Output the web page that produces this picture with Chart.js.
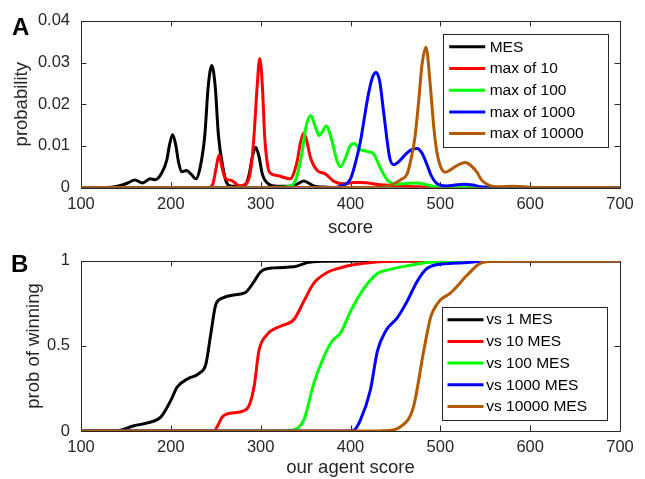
<!DOCTYPE html>
<html>
<head>
<meta charset="utf-8">
<script src="https://cdn.jsdelivr.net/npm/chart.js@4.4.0/dist/chart.umd.min.js"></script>
<style>
  html, body { margin: 0; padding: 0; background: #fff; }
  #wrap { position: relative; width: 645px; height: 479px; overflow: hidden; }
  #wrap canvas { position: absolute; left: 0; }
  #cA { top: 0; }
  #cB { top: 240px; }
  .panel { position: absolute; font: bold 24px "Liberation Sans", Arial, sans-serif; color: #000; }
</style>
</head>
<body>
<div id="wrap">
  <canvas id="cA" width="645" height="240"></canvas>
  <canvas id="cB" width="645" height="239"></canvas>
  <div class="panel" style="left:12px;top:13px">A</div>
  <div class="panel" style="left:11px;top:250px">B</div>
</div>
<script>
/* ── data: panel A, score distributions ── */
const scoreTicks = [100, 200, 300, 400, 500, 600, 700];
const probTicks  = [0, 0.01, 0.02, 0.03, 0.04];
const winTicks   = [0, 0.5, 1];

const namesA = ['MES', 'max of 10', 'max of 100', 'max of 1000', 'max of 10000'];
const namesB = ['vs 1 MES', 'vs 10 MES', 'vs 100 MES', 'vs 1000 MES', 'vs 10000 MES'];
const colors = ['#000000', '#ff0000', '#00ff00', '#0000ff', '#b35900'];

const mesX = [100, 133, 144, 152, 160, 168.5, 177, 182.6, 189, 195.5, 198.5, 202, 205.5, 208.5, 212, 217.4, 223, 228, 232.6, 237.8, 241.5, 245.6, 249.5, 253, 258, 262, 268, 279.6, 284, 287, 291, 294.4, 298, 301.8, 309, 318, 333, 342, 348, 354, 359, 374, 400, 700];
const mesY = [0, 0.0001, 0.0005, 0.0011, 0.0018, 0.0011, 0.0021, 0.0019, 0.0032, 0.0066, 0.0102, 0.0127, 0.0102, 0.0062, 0.0038, 0.0041, 0.0031, 0.0021, 0.0048, 0.0125, 0.024, 0.0293, 0.024, 0.0125, 0.0048, 0.0012, 0.0003, 0.0003, 0.001, 0.003, 0.0076, 0.0097, 0.0076, 0.0033, 0.0008, 0.0003, 0.0003, 0.001, 0.0016, 0.001, 0.0004, 0.0001, 0, 0];

const max10X = [100, 242.6, 247, 250.5, 253.7, 257, 260, 263, 266.7, 271, 276, 283, 287, 290, 292.6, 296, 299, 302, 304.4, 308, 312, 318.5, 333, 337, 340.7, 344.5, 348, 351.5, 355.6, 363, 372, 381.5, 392.6, 403.7, 411, 437, 474, 500, 700];
const max10Y = [0, 0, 0.001, 0.0048, 0.0078, 0.0048, 0.0025, 0.0019, 0.0018, 0.0012, 0.0004, 0.0008, 0.0022, 0.006, 0.0125, 0.024, 0.031, 0.024, 0.0125, 0.005, 0.0033, 0.0029, 0.0021, 0.0035, 0.0064, 0.011, 0.0131, 0.011, 0.0071, 0.0041, 0.0033, 0.0015, 0.0009, 0.0012, 0.0012, 0.0006, 0.0002, 0, 0];

const max100X = [100, 300, 325, 335, 340, 346.3, 350, 355.6, 361, 365, 369, 373, 379.6, 385, 389, 394.4, 399, 404, 411, 418.5, 426, 433, 441, 450, 462, 474, 486, 500, 700];
const max100Y = [0, 0, 0.0001, 0.0006, 0.0025, 0.0087, 0.0141, 0.0173, 0.0145, 0.0125, 0.0135, 0.0148, 0.011, 0.0064, 0.005, 0.0071, 0.0098, 0.0106, 0.0091, 0.0087, 0.008, 0.0048, 0.0018, 0.0008, 0.001, 0.0011, 0.0006, 0.0001, 0];

const max1000X = [100, 378, 390, 400, 405, 411, 416, 420, 424.5, 428.5, 432.5, 437, 443.7, 448, 454, 461, 467, 474, 479.5, 485, 490, 496, 507, 516, 526, 536, 545, 559, 700];
const max1000Y = [0, 0, 0.0004, 0.0021, 0.0055, 0.011, 0.0175, 0.0225, 0.0265, 0.0276, 0.0255, 0.0179, 0.0071, 0.0055, 0.0063, 0.0079, 0.009, 0.0094, 0.0083, 0.0056, 0.0028, 0.001, 0.0004, 0.0006, 0.0008, 0.0006, 0.0002, 0, 0];

const max10000X = [100, 430, 437, 445, 450, 456, 463, 468, 472, 476, 479.6, 484, 489, 492.5, 496, 500, 505.6, 510, 515, 521, 527.8, 534, 540.7, 546, 552, 563, 581, 600, 620, 700];
const max10000Y = [0, 0, 0.0002, 0.0006, 0.0011, 0.0019, 0.0033, 0.0075, 0.0125, 0.021, 0.0295, 0.0337, 0.0241, 0.015, 0.0087, 0.0052, 0.0037, 0.0041, 0.0048, 0.0056, 0.006, 0.0053, 0.0037, 0.0018, 0.0008, 0.0002, 0.0003, 0.0001, 0, 0];

/* ── data: panel B, probability of winning ── */
const vs1X = [100, 140, 159, 174, 189, 200, 207, 218.5, 231.5, 239, 244.4, 250, 257.4, 270, 283, 292.6, 300, 314.8, 337, 352, 367, 400, 700];
const vs1Y = [0, 0.002, 0.031, 0.048, 0.083, 0.18, 0.258, 0.306, 0.339, 0.393, 0.568, 0.742, 0.781, 0.8, 0.814, 0.878, 0.936, 0.959, 0.965, 0.99, 0.998, 1, 1];

const vs10X = [100, 248, 252, 257.4, 270, 285, 292.6, 298, 307.4, 322, 337, 348, 359, 374, 389, 400, 422, 450, 700];
const vs10Y = [0, 0, 0.03, 0.083, 0.107, 0.132, 0.258, 0.47, 0.568, 0.616, 0.655, 0.762, 0.868, 0.932, 0.96, 0.975, 0.99, 1, 1];

const vs100X = [100, 305, 335, 340.7, 348, 359, 370, 379.6, 389, 400, 415, 430, 441, 467, 485, 520, 700];
const vs100Y = [0, 0, 0.005, 0.015, 0.064, 0.277, 0.432, 0.529, 0.577, 0.703, 0.839, 0.926, 0.946, 0.975, 0.99, 1, 1];

const vs1000X = [100, 395, 403.7, 411, 422, 430, 439, 452, 463, 474, 485, 507, 530, 552, 700];
const vs1000Y = [0, 0, 0.005, 0.064, 0.238, 0.471, 0.587, 0.665, 0.762, 0.878, 0.955, 0.984, 0.99, 1, 1];

const vs10000X = [100, 420, 441, 455.6, 470, 481.5, 489, 492.6, 500, 511, 515, 530, 544, 559, 600, 700];
const vs10000Y = [0, 0, 0.003, 0.025, 0.14, 0.47, 0.665, 0.713, 0.77, 0.81, 0.83, 0.917, 0.984, 0.998, 1, 1];

const FONT = '"Liberation Sans", Arial, Helvetica, sans-serif';
const INK = '#262626';

/* box with inward ticks on all four sides (MATLAB look) */
const axesBox = {
  id: 'axesBox',
  beforeDatasetsDraw(chart) {
    const { ctx, chartArea: a, scales: { x, y } } = chart;
    const len = 5.5;
    ctx.save();
    ctx.strokeStyle = INK;
    ctx.lineWidth = 1;
    ctx.beginPath();
    ctx.rect(Math.round(a.left) + 0.5, Math.round(a.top) + 0.5, Math.round(a.width), Math.round(a.height));
    x.ticks.forEach(t => {
      const px = Math.round(x.getPixelForValue(t.value)) + 0.5;
      ctx.moveTo(px, a.bottom); ctx.lineTo(px, a.bottom - len);
      ctx.moveTo(px, a.top); ctx.lineTo(px, a.top + len);
    });
    y.ticks.forEach(t => {
      const py = Math.round(y.getPixelForValue(t.value)) + 0.5;
      ctx.moveTo(a.left, py); ctx.lineTo(a.left + len, py);
      ctx.moveTo(a.right, py); ctx.lineTo(a.right - len, py);
    });
    ctx.stroke();
    ctx.restore();
  }
};

/* legend box drawn inside the plot area */
const boxLegend = {
  id: 'boxLegend',
  afterDraw(chart, args, o) {
    const { ctx, chartArea: a } = chart;
    const w = 164.5, h = 112.5;
    const left = a.right - o.insetRight - w;
    const top = o.corner === 'top' ? a.top + o.insetY : a.bottom - o.insetY - h;
    ctx.save();
    ctx.fillStyle = '#fff';
    ctx.fillRect(left, top, w, h);
    ctx.strokeStyle = INK;
    ctx.lineWidth = 1;
    ctx.strokeRect(Math.round(left) + 0.5, Math.round(top) + 0.5, Math.round(w), Math.round(h));
    ctx.font = '15.5px ' + FONT;
    ctx.textBaseline = 'middle';
    chart.data.datasets.forEach((ds, i) => {
      const cy = top + 13.2 + i * 21.7;
      ctx.strokeStyle = ds.borderColor;
      ctx.lineWidth = 3;
      ctx.beginPath();
      ctx.moveTo(left + 6, cy); ctx.lineTo(left + 42, cy);
      ctx.stroke();
      ctx.fillStyle = '#000';
      ctx.fillText(ds.label, left + o.textX, cy + 0.5);
    });
    ctx.restore();
  }
};

function lineSet(label, color, xs, ys, i) {
  return {
    label,
    data: xs.map((x, k) => ({ x, y: ys[k] })),
    borderColor: color,
    backgroundColor: color,
    borderWidth: 3,
    pointRadius: 0,
    fill: false,
    cubicInterpolationMode: 'monotone',
    borderJoinStyle: 'round',
    order: 4 - i   // last series drawn on top
  };
}

function panelOptions(p) {
  return {
    responsive: false,
    animation: false,
    layout: { padding: { left: 0, right: 25, top: p.padTop, bottom: 0 } },
    plugins: {
      legend: { display: false },
      tooltip: { enabled: false },
      boxLegend: p.legend
    },
    scales: {
      x: {
        type: 'linear', min: 100, max: 700,
        grid: { display: false, drawTicks: false },
        border: { display: false },
        afterBuildTicks: s => { s.ticks = scoreTicks.map(v => ({ value: v })); },
        afterFit: s => { s.height = p.xAxisH; },
        ticks: { color: INK, font: { family: FONT, size: 16.5 }, padding: 7, maxRotation: 0, callback: v => String(v) },
        title: { display: true, text: p.xTitle, color: INK, font: { family: FONT, size: 18.5 }, padding: { top: 0, bottom: p.xTitlePad } }
      },
      y: {
        type: 'linear', min: p.yMin, max: p.yMax,
        grid: { display: false, drawTicks: false },
        border: { display: false },
        afterBuildTicks: s => { s.ticks = p.yTicks.map(v => ({ value: v })); },
        afterFit: s => { s.width = 81; },
        ticks: { color: INK, font: { family: FONT, size: 16.5 }, padding: 11, callback: v => String(v) },
        title: { display: true, text: p.yTitle, color: INK, font: { family: FONT, size: 18.5 }, padding: { top: p.yTitlePad, bottom: 0 } }
      }
    }
  };
}

new Chart(document.getElementById('cA'), {
  type: 'line',
  data: {
    datasets: [
      lineSet(namesA[0], colors[0], mesX, mesY, 0),
      lineSet(namesA[1], colors[1], max10X, max10Y, 1),
      lineSet(namesA[2], colors[2], max100X, max100Y, 2),
      lineSet(namesA[3], colors[3], max1000X, max1000Y, 3),
      lineSet(namesA[4], colors[4], max10000X, max10000Y, 4)
    ]
  },
  options: panelOptions({
    padTop: 15, xAxisH: 52.4, xTitle: 'score', xTitlePad: 1,
    yMin: 0, yMax: 0.04, yTicks: probTicks, yTitle: 'probability', yTitlePad: 11,
    legend: { corner: 'top', insetRight: 12.3, insetY: 12.7, textX: 46.5 }
  }),
  plugins: [axesBox, boxLegend]
});

new Chart(document.getElementById('cB'), {
  type: 'line',
  data: {
    datasets: [
      lineSet(namesB[0], colors[0], vs1X, vs1Y, 0),
      lineSet(namesB[1], colors[1], vs10X, vs10Y, 1),
      lineSet(namesB[2], colors[2], vs100X, vs100Y, 2),
      lineSet(namesB[3], colors[3], vs1000X, vs1000Y, 3),
      lineSet(namesB[4], colors[4], vs10000X, vs10000Y, 4)
    ]
  },
  options: panelOptions({
    padTop: 19, xAxisH: 48, xTitle: 'our agent score', xTitlePad: 0,
    yMin: 0, yMax: 1, yTicks: winTicks, yTitle: 'prob of winning', yTitlePad: 22.5,
    legend: { corner: 'bottom', insetRight: 14, insetY: 12, textX: 44.7 }
  }),
  plugins: [axesBox, boxLegend]
});
</script>
</body>
</html>
